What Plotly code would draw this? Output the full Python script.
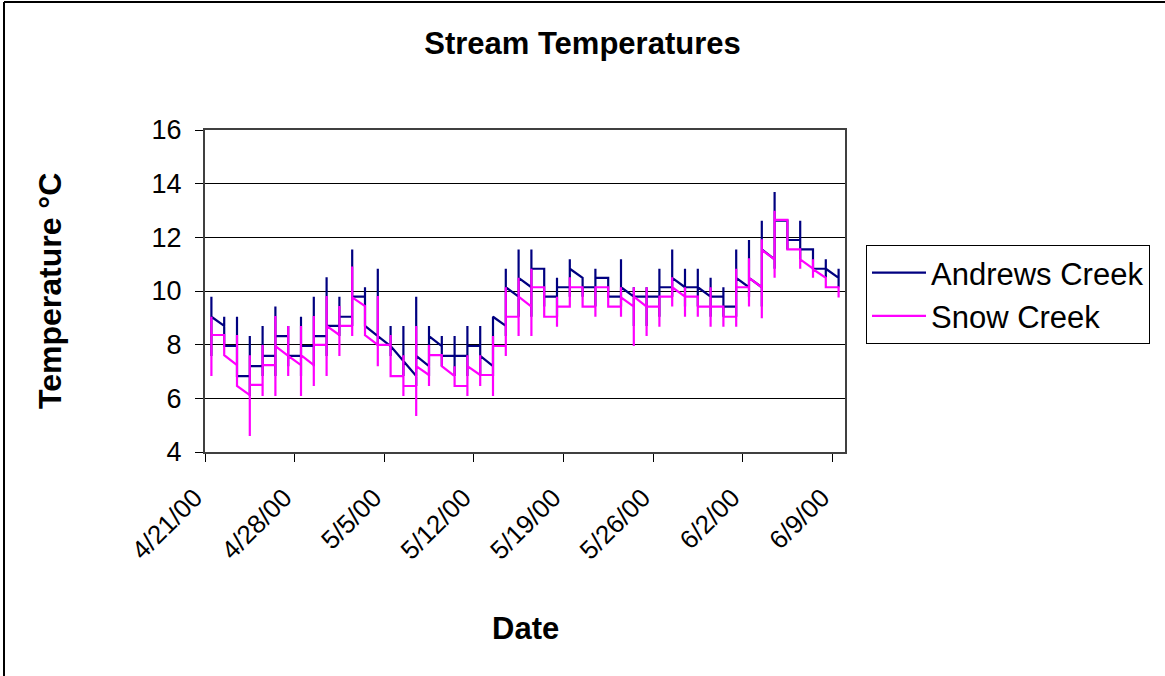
import plotly.graph_objects as go
import pandas as pd

# one entry per day, 4/21/00 .. 6/9/00
days = pd.date_range("2000-04-21", periods=50, freq="D")

# Andrews Creek: first reading, daily max, daily min, last reading (deg C)
andrews_first = [9.79, 8.70, 7.95, 6.83, 7.20, 7.58, 8.32, 7.58, 7.95, 8.32,
                 8.70, 9.04, 9.79, 8.32, 7.95, 7.39, 6.83, 7.20, 7.95, 7.58,
                 7.58, 7.95, 7.20, 8.70, 9.79, 10.14, 10.83, 9.79, 10.14, 10.49,
                 10.14, 10.49, 9.79, 9.79, 9.79, 9.79, 10.14, 10.14, 10.14, 9.79,
                 9.79, 9.42, 10.14, 10.14, 11.18, 12.62, 11.90, 11.55, 10.83, 10.49]
andrews_max = [9.79, 9.04, 9.04, 8.32, 8.70, 9.42, 8.70, 9.04, 9.79, 10.51,
               9.79, 11.55, 10.14, 10.83, 8.70, 8.70, 9.79, 8.70, 8.32, 8.32,
               8.70, 8.70, 9.04, 10.83, 11.55, 11.55, 10.83, 10.49, 11.18, 10.49,
               10.83, 10.49, 11.18, 10.14, 10.14, 10.83, 11.55, 10.83, 10.83, 10.49,
               10.14, 11.55, 11.90, 12.62, 13.69, 12.62, 12.62, 11.55, 11.18, 10.83]
andrews_min = [7.58, 7.95, 6.83, 6.09, 6.83, 6.83, 7.20, 6.83, 7.20, 7.58,
               8.32, 8.70, 8.70, 7.95, 7.58, 6.83, 6.46, 6.83, 7.20, 6.83,
               6.83, 6.83, 6.83, 8.32, 9.04, 9.04, 9.42, 9.04, 9.79, 9.79,
               9.42, 9.79, 9.42, 8.70, 8.70, 9.04, 9.79, 9.42, 9.42, 9.04,
               9.04, 9.04, 9.79, 9.42, 10.83, 11.55, 11.18, 10.83, 10.49, 10.14]
andrews_last = [9.04, 7.95, 6.83, 7.20, 7.58, 8.32, 7.58, 7.95, 8.32, 8.70,
                9.04, 9.79, 8.70, 8.32, 7.95, 7.39, 7.58, 8.32, 7.58, 7.58,
                7.95, 7.58, 9.04, 10.14, 10.49, 10.83, 9.79, 10.14, 10.83, 10.14,
                10.49, 9.79, 10.14, 9.79, 9.79, 10.14, 10.49, 10.14, 10.14, 9.79,
                9.42, 10.49, 10.49, 11.55, 12.62, 11.90, 11.55, 10.83, 10.83, 10.49]

# Snow Creek: first reading, daily max, daily min, last reading (deg C)
snow_first = [9.04, 8.36, 7.24, 6.12, 6.50, 7.24, 7.58, 7.24, 7.24, 7.99,
              8.36, 8.70, 9.44, 7.99, 7.99, 6.83, 6.46, 6.87, 7.61, 6.83,
              6.46, 6.87, 6.87, 7.95, 9.04, 9.42, 10.14, 9.04, 9.42, 10.14,
              9.42, 10.14, 9.42, 9.42, 9.42, 9.42, 9.79, 9.79, 9.79, 9.42,
              9.42, 9.04, 10.14, 10.14, 11.18, 12.65, 11.55, 10.83, 10.49, 10.14]
snow_max = [9.04, 8.36, 8.36, 7.61, 7.99, 9.07, 8.70, 8.70, 9.07, 9.81,
            9.44, 10.91, 9.44, 9.81, 8.36, 7.61, 8.70, 7.99, 7.61, 7.20,
            7.61, 7.61, 8.32, 10.14, 10.49, 10.83, 10.14, 9.79, 10.51, 10.14,
            10.14, 10.14, 10.14, 10.14, 10.14, 9.79, 10.51, 10.14, 9.79, 10.14,
            9.42, 10.83, 11.22, 11.93, 12.99, 12.65, 11.55, 11.18, 10.49, 10.14]
snow_min = [6.83, 7.61, 6.46, 4.60, 6.09, 6.09, 6.83, 6.09, 6.46, 6.83,
            7.58, 8.32, 8.32, 7.20, 6.83, 6.09, 5.34, 6.46, 7.20, 6.46,
            6.09, 6.46, 6.09, 7.58, 8.32, 8.32, 9.04, 8.67, 9.42, 9.42,
            9.04, 9.42, 9.04, 7.95, 8.32, 8.67, 9.42, 9.04, 9.04, 8.67,
            8.67, 8.67, 9.42, 8.98, 10.49, 11.55, 10.83, 10.49, 10.14, 9.76]
snow_last = [8.36, 7.61, 6.46, 6.50, 7.24, 7.95, 7.58, 7.61, 7.99, 8.70,
             8.70, 9.76, 8.36, 7.99, 6.83, 6.46, 7.20, 7.61, 7.20, 6.46,
             7.20, 6.87, 7.95, 9.04, 9.79, 10.14, 9.04, 9.42, 10.14, 9.42,
             10.14, 9.42, 9.76, 9.79, 9.42, 9.79, 10.14, 9.79, 9.42, 9.42,
             9.04, 10.14, 10.49, 11.53, 12.65, 11.55, 11.18, 10.81, 10.14, 9.76]

tick_dates = ["2000-04-21", "2000-04-28", "2000-05-05", "2000-05-12",
              "2000-05-19", "2000-05-26", "2000-06-02", "2000-06-09"]
tick_labels = ["4/21/00", "4/28/00", "5/5/00", "5/12/00",
               "5/19/00", "5/26/00", "6/2/00", "6/9/00"]


def day_trace(first, hi, lo, last):
    # all readings of a day sit on the same date, like Excel's date axis
    xs, ys = [], []
    for d, a, b, c, e in zip(days, first, hi, lo, last):
        x = d + pd.Timedelta(hours=12)
        xs += [x] * 4
        ys += [a, b, c, e]
    return xs, ys


FONT = "Arial, Liberation Sans, sans-serif"

fig = go.Figure()
ax, ay = day_trace(andrews_first, andrews_max, andrews_min, andrews_last)
sx, sy = day_trace(snow_first, snow_max, snow_min, snow_last)
fig.add_trace(go.Scatter(x=ax, y=ay, mode="lines", name="Andrews Creek",
                         line=dict(color="#000080", width=2.2)))
fig.add_trace(go.Scatter(x=sx, y=sy, mode="lines", name="Snow Creek",
                         line=dict(color="#FF00FF", width=2.2)))

W, H = 1165, 676
L, R, T, B = 205, 320, 130, 224
pw, ph = W - L - R, H - T - B


def px(x):
    return (x - L) / pw


def py(y):
    return (H - B - y) / ph


fig.update_layout(
    width=W, height=H,
    margin=dict(l=L, r=R, t=T, b=B),
    paper_bgcolor="white", plot_bgcolor="white",
    font=dict(family=FONT, color="black"),
    title=dict(text="<b>Stream Temperatures</b>", x=0.5, xref="container",
               y=1 - 43 / H, yref="container", yanchor="middle",
               font=dict(size=31, family=FONT)),
    showlegend=True,
    legend=dict(x=px(866), y=py(245), xanchor="left", yanchor="top",
                bordercolor="black", borderwidth=1, bgcolor="white",
                font=dict(size=31, family=FONT), itemwidth=54,
                tracegroupgap=0),
    xaxis=dict(type="date", range=["2000-04-21", "2000-06-10"],
               tickvals=tick_dates,
               ticktext=[t + "\u00a0\u00a0" for t in tick_labels],
               tickangle=-45,
               ticks="outside", ticklen=8, tickcolor="black",
               showline=True, linecolor="#404040", linewidth=2, mirror=True,
               showgrid=False, zeroline=False,
               tickfont=dict(size=26, family=FONT)),
    yaxis=dict(range=[4, 16], dtick=2, ticks="outside", ticklen=8,
               tickcolor="black", showline=True, linecolor="#404040",
               ticklabelstandoff=8,
               linewidth=2, mirror=True, showgrid=True, gridcolor="black",
               gridwidth=1, zeroline=False,
               tickfont=dict(size=27, family=FONT)),
    annotations=[
        dict(text="<b>Temperature °C</b>", textangle=-90, x=px(50), y=0.5,
             xref="paper", yref="paper", xanchor="center", yanchor="middle",
             showarrow=False, font=dict(size=32, family=FONT)),
        dict(text="<b>Date</b>", x=0.5, y=py(628), xref="paper", yref="paper",
             xanchor="center", yanchor="middle",
             showarrow=False, font=dict(size=31, family=FONT)),
    ],
    shapes=[
        dict(type="line", xref="paper", yref="paper", x0=px(4), x1=px(W + 5),
             y0=py(2), y1=py(2), line=dict(color="black", width=2)),
        dict(type="line", xref="paper", yref="paper", x0=px(4), x1=px(4),
             y0=py(2), y1=py(H + 5), line=dict(color="black", width=2)),
    ],
)

fig.write_html("out.html", config={"displayModeBar": False},
               post_script="document.body.style.margin='0';"
                           "document.body.style.overflow='hidden';")
